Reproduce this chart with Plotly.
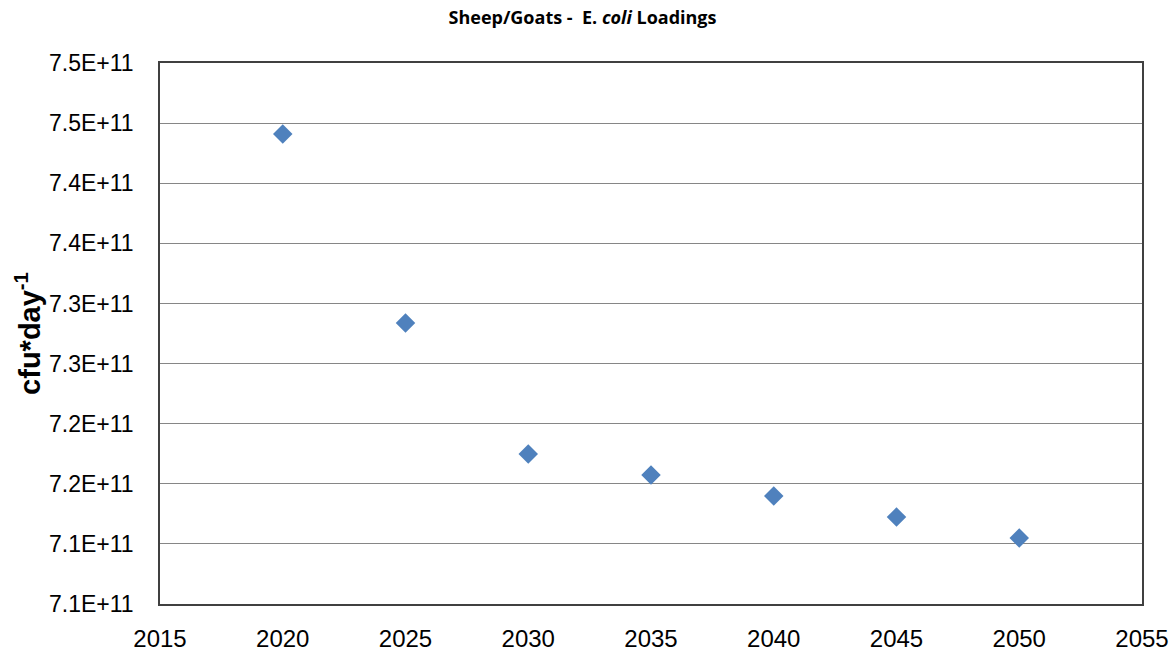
import plotly.graph_objects as go

# Sheep/Goats E. coli loadings by projection year
years = [2020, 2025, 2030, 2035, 2040, 2045, 2050]
loadings = [7.4409e11, 7.2837e11, 7.1747e11, 7.1572e11, 7.1398e11, 7.1223e11, 7.1048e11]

x_ticks = [2015, 2020, 2025, 2030, 2035, 2040, 2045, 2050, 2055]
y_ticks = [7.05e11, 7.10e11, 7.15e11, 7.20e11, 7.25e11, 7.30e11, 7.35e11, 7.40e11, 7.45e11, 7.50e11]
y_tick_labels = ["7.1E+11", "7.1E+11", "7.2E+11", "7.2E+11", "7.3E+11",
                 "7.3E+11", "7.4E+11", "7.4E+11", "7.5E+11", "7.5E+11"]

fig = go.Figure()
fig.add_trace(go.Scatter(
    x=years, y=loadings, mode="markers",
    marker=dict(symbol="diamond", size=15, color="#4F81BD",
                line=dict(width=0)),
    showlegend=False,
))

fig.update_layout(
    width=1175, height=653,
    margin=dict(l=160, r=33, t=63, b=49),
    paper_bgcolor="white", plot_bgcolor="white",
    font=dict(family="Liberation Sans", color="black"),
    title=dict(
        text="<b>Sheep/Goats -  E. <i>coli</i> Loadings</b>",
        x=582.5 / 1175, xanchor="center", xref="container",
        y=1 - 18 / 653, yanchor="middle", yref="container",
        font=dict(size=18, family="Open Sans"),
    ),
)

fig.update_xaxes(
    range=[2015, 2055], tickvals=x_ticks, ticktext=[str(v) for v in x_ticks],
    showgrid=False, zeroline=False, automargin=False,
    showline=True, linecolor="#404040", linewidth=1.5, mirror=True,
    ticks="", tickfont=dict(size=24), ticklabelstandoff=12,
)
fig.update_yaxes(
    range=[7.05e11, 7.50e11], tickvals=y_ticks, ticktext=y_tick_labels,
    showgrid=True, gridcolor="#868686", gridwidth=1.2, zeroline=False,
    automargin=False,
    showline=True, linecolor="#404040", linewidth=1.5, mirror=True,
    ticks="", tickfont=dict(size=23), ticklabelstandoff=20,
    title=dict(text="<b>cfu*day<sup>-1</sup></b>", font=dict(size=29), standoff=0),
)

fig.write_html("out.html")
